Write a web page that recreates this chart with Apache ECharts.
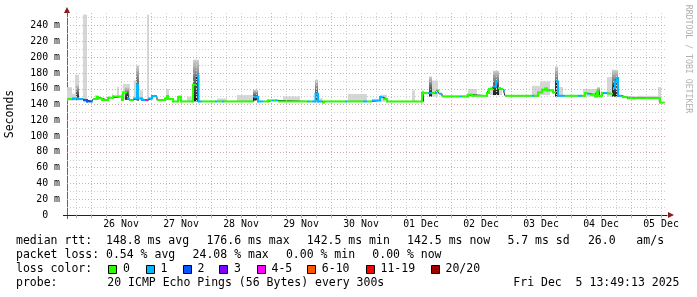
<!DOCTYPE html>
<html><head><meta charset="utf-8">
<script src="https://cdn.jsdelivr.net/npm/echarts@6/dist/echarts.min.js"></script>
<style>html,body{margin:0;padding:0;background:#fff}#c{width:697px;height:297px}</style>
</head><body><div id="c"></div><script>
// ---- data (time in hours since 26 Nov 00:00, values in ms) ----
const dayLabels = ['26 Nov','27 Nov','28 Nov','29 Nov','30 Nov','01 Dec','02 Dec','03 Dec','04 Dec','05 Dec'];
const yTicks = [0,20,40,60,80,100,120,140,160,180,200,220,240];
const tStart = -9.6, tEnd = 230.4, tLast = 229.4;

// median rtt steps
const medT = [-9.6,-7.6,-5.2,-3.2,-1.6,0.4,0.8,2.4,2.8,4.4,6.8,8.8,12.4,12.8,14.4,15.2,16.8,18.4,18.8,20.4,21.6,22.8,24.4,26.4,29.6,30.4,30.8,32.8,34.8,36.0,40.8,42.2,43.0,44.4,
  49.6,50.4,52.4,53.2,65.0,66.8,68.8,70.8,72.4,73.0,73.6,74.8,86.4,87.6,88.4,89.8,90.8,92.4,93.2,101.6,102.4,108.8,110.4,
  112.4,115.6,116.8,118.4,132.4,134.8,136.4,137.6,138.4,139.2,140.4,147.6,148.4,150.8,152.4,158.4,159.2,160.8,162.0,162.8,163.6,164.8,165.6,
  176.4,177.2,178.8,180.4,181.6,182.4,184.8,186.0,186.8,189.6,194.8,196.4,197.6,198.4,199.6,201.6,202.4,202.8,204.4,204.8,206.4,208.8,209.6,210.4,210.8,212.4,214.4,214.8,227.6];
const medV = [146.9,147.7,146.9,145.6,143.9,143.9,146.9,149.5,147.7,145.6,148.6,150.2,145.6,155.3,147.7,145.6,147.7,165.1,147.7,145.6,145.6,147.7,150.7,145.6,147.7,150.7,146.9,143.9,149.5,143.9,165.1,176.6,143.9,143.9,
  143.9,143.9,143.9,143.9,149.4,143.9,143.9,145.2,145.2,145.2,145.2,143.9,143.9,143.9,143.9,153.7,143.9,142.5,143.9,143.9,143.9,143.9,143.9,
  145.2,149.4,146.9,143.9,154.5,154.5,154.5,154.5,157.9,153.7,150.3,150.3,150.3,152.4,151.1,154.5,159.6,163.0,169.3,160.8,159.6,157.9,151.1,
  151.1,151.1,155.3,158.7,160.4,157.9,155.3,169.3,151.1,151.1,151.1,151.1,154.5,153.7,152.4,150.3,156.6,151.1,154.5,154.5,153.7,160.8,169.3,173.5,151.1,149.4,148.1,148.1,142.5];
// lost pings (of 20) per step
const medL = [0,1,1,2,2,1,0,0,0,0,0,0,0,0,1,0,1,1,1,1,4,1,1,0,0,0,0,0,0,0,0,1,1,0,
  1,0,1,0,1,1,0,0,1,0,1,0,1,0,1,1,1,0,0,1,0,1,0,
  1,1,0,0,0,1,0,1,0,1,0,1,0,0,0,0,0,1,1,0,0,1,0,
  1,0,0,0,0,0,0,1,1,0,1,0,0,1,0,0,0,0,0,1,0,1,1,1,1,0,1,0,0];

// smoke: spread of the individual pings (light part)
const smokeT0 = [-9.6,-7.6,-6.4,-3.2,1.6,8.4,10.4,12.8,17.2,19.6,22.4,30.0,34.8,38.4,40.8,50.4,58.4,76.8,90.8,102.8,115.6,128.4,136.4,150.8,159.6,163.2,176.4,179.6,186.8,196.8,206.4,218.4,226.8];
const smokeT1 = [-7.6,-6.4,-4.8,-1.6,2.8,8.8,11.2,15.6,19.2,20.8,23.2,31.2,36.4,40.4,42.8,54.4,64.8,83.6,92.8,110.4,118.4,129.6,138.8,154.4,161.6,164.4,179.6,183.6,188.8,202.8,208.4,226.8,228.0];
const smokeLo = [145,145,145,143,146,148,148,146,146,145,144,146,144,144,144,143.5,143.5,143.5,143.5,143.5,143.5,143.5,150,150,152,152,150,152,150,150,150,147,143];
const smokeHi = [162,153.7,177.8,254,152,154,162.5,166,170.5,158,254,159.6,152,150,185,147.7,152,150.3,148,153.3,152.4,158,170.5,159.6,163,161,163.8,169.3,162.2,159.6,174.8,151.1,162.2];
// smoke: dense part
const denseT0 = [-6.0,13.6,18.0,40.8,64.8,89.6,132.4,135.2,160.8,185.6,202.4,208.4];
const denseT1 = [-4.8,15.2,19.2,43.2,66.8,90.8,133.2,136.4,163.2,186.8,203.6,210.8];
const denseLo = [146,146,145,144,145,144,144,150,152,150,150,150];
const denseHi = [165,162,189.6,196.8,158.7,171.4,157.9,175.6,182.9,188.3,162,184.1];

const lossBuckets = [0,1,2,3,5,10,19,20];
const lossNames = ['0','1','2','3','4-5','6-10','11-19','20/20'];
const lossCols = ['#26ff00','#00b8ff','#0059ff','#7e00ff','#ff00ff','#ff5500','#ff0000','#a10000'];

// ---- rendering ----
const MONO = '"DejaVu Sans Mono", monospace';
function lossIdx(l){ for (let i=0;i<lossBuckets.length;i++) if (l<=lossBuckets[i]) return i; return lossBuckets.length-1; }

const labelHours = dayLabels.map((d,i)=>i*24+12);
const tickHours = []; for (let h=-6; h<=tEnd; h+=6) tickHours.push(h);

const gridLines = [];
const MAJ = '#dcaaaa', MIN = '#cfcfcf';
tickHours.forEach(h=>gridLines.push({xAxis:h, lineStyle:{color: h%24===0?MAJ:MIN, type:[1,2], width:1}}));
for (let v=10; v<=250; v+=10) gridLines.push({yAxis:v, lineStyle:{color: v%20===0?MAJ:MIN, type:[1,2], width:1}});

const n = medT.length;
const medPts = medT.map((t,i)=>[t, medV[i]]).concat([[tLast, medV[n-1]]]);
const segData = medT.map((t,i)=>[t, i+1<n?medT[i+1]:tLast, medV[i], medL[i],
  (i>0 && lossIdx(medL[i-1])===lossIdx(medL[i])) ? medV[i-1] : -1]);

function rectItem(api, t0, t1, lo, hi, fill){
  const a = api.coord([t0, hi]), b = api.coord([t1, lo]);
  return {type:'rect', shape:{x:a[0], y:a[1], width:b[0]-a[0], height:b[1]-a[1]}, style:{fill}};
}

const graphic = [];
function txt(x,y,text,extra){ graphic.push(Object.assign({type:'text', x, y, silent:true,
  style:{text, font:'11.5px '+MONO, fill:'#000', verticalAlign:'middle'}}, extra||{})); }
txt(16,241,'median rtt:  148.8 ms avg'); txt(206.5,241,'176.6 ms max'); txt(306.8,241,'142.5 ms min');
txt(407.1,241,'142.5 ms now'); txt(507.4,241,'5.7 ms sd'); txt(587.9,241,'26.0   am/s');
txt(16,255,'packet loss: 0.54 % avg'); txt(192.6,255,'24.08 % max'); txt(285.9,255,'0.00 % min'); txt(372.3,255,'0.00 % now');
txt(16,269,'loss color:');
const boxX = [108.3,145.7,182.7,219.3,256.7,307,365.7,430.7];
lossNames.forEach((nm,i)=>{
  graphic.push({type:'rect', silent:true, shape:{x:Math.round(boxX[i])+0.5, y:265.5, width:8, height:8}, style:{fill:lossCols[i], stroke:'#000', lineWidth:1}});
  txt(boxX[i]+14.8,269,nm);
});
txt(16,283,'probe:'); txt(107.3,283,'20 ICMP Echo Pings (56 Bytes) every 300s'); txt(513.3,283,'Fri Dec  5 13:49:13 2025');
graphic.push({type:'text', x:10, y:114, rotation:Math.PI/2, silent:true,
  style:{text:'Seconds', font:'11.5px '+MONO, fill:'#000', align:'center', verticalAlign:'middle'}});
graphic.push({type:'text', x:688, y:59, rotation:-Math.PI/2, silent:true,
  style:{text:'RRDTOOL / TOBI OETIKER', font:'8.2px '+MONO, fill:'#b0b0b0', align:'center', verticalAlign:'middle'}});
graphic.push({type:'polygon', silent:true, shape:{points:[[64,13],[70,13],[67,7]]}, style:{fill:'#8b1a1a'}});
graphic.push({type:'polygon', silent:true, shape:{points:[[668,212],[668,218],[674,215]]}, style:{fill:'#8b1a1a'}});
graphic.push({type:'line', silent:true, shape:{x1:63, y1:215.5, x2:67, y2:215.5}, style:{stroke:'#222', lineWidth:1}});
graphic.push({type:'line', silent:true, shape:{x1:67.5, y1:215, x2:67.5, y2:219}, style:{stroke:'#666', lineWidth:1}});

const option = {
  animation:false, backgroundColor:'#fff',
  grid:{left:67, right:30, top:13, bottom:82},
  xAxis:{type:'value', min:tStart, max:tEnd, splitLine:{show:false},
    axisLine:{show:true, onZero:false, lineStyle:{color:'#222', width:1}},
    axisTick:{show:true, customValues:tickHours, length:3, lineStyle:{color:'#c8a0a0'}},
    axisLabel:{customValues:labelHours, formatter:v=>dayLabels[Math.round((v-12)/24)], fontFamily:MONO, fontSize:9.9, color:'#000', margin:4}},
  yAxis:{type:'value', min:0, max:256, interval:20, splitLine:{show:false},
    axisLine:{show:true, onZero:false, lineStyle:{color:'#666', width:1}}, axisTick:{show:false},
    axisLabel:{showMaxLabel:false, formatter:v=>v===0?'0  ':v+' m', fontFamily:MONO, fontSize:9.9, color:'#000', margin:7}},
  graphic,
  series:[
    {type:'line', z:1, data:[[tStart,0]], symbol:'none', lineStyle:{width:0}, silent:true,
     markLine:{silent:true, symbol:['none','none'], label:{show:false}, animation:false, data:gridLines}},
    {type:'custom', z:2, silent:true, clip:true, encode:{x:[0,1], y:[2,3]},
     data:smokeT0.map((t,i)=>[t, smokeT1[i], smokeLo[i], smokeHi[i]]),
     renderItem:(p,api)=>rectItem(api, api.value(0), api.value(1), api.value(2), api.value(3), '#d6d6d6')},
    {type:'custom', z:3, silent:true, clip:true, encode:{x:[0,1], y:[2,3]},
     data:denseT0.map((t,i)=>[t, denseT1[i], denseLo[i], denseHi[i]]),
     renderItem:(p,api)=>rectItem(api, api.value(0), api.value(1), api.value(2), api.value(3),
       {type:'linear', x:0, y:0, x2:0, y2:1, colorStops:[{offset:0,color:'#d0d0d0'},{offset:0.6,color:'#555'},{offset:1,color:'#1a1a1a'}]})},
    {type:'line', z:4, step:'end', data:medPts, symbol:'none', silent:true, lineStyle:{color:'#202020', width:1}},
    {type:'custom', z:5, silent:true, clip:true, encode:{x:[0,1], y:2}, data:segData,
     renderItem:(p,api)=>{
       const t0=api.value(0), t1=api.value(1), v=api.value(2), col=lossCols[lossIdx(api.value(3))], pv=api.value(4);
       const a=api.coord([t0,v]), b=api.coord([t1,v]);
       const ch=[{type:'rect', shape:{x:a[0], y:a[1]-1, width:b[0]-a[0], height:2}, style:{fill:col}}];
       if (pv>=0){ const q=api.coord([t0,pv]); ch.push({type:'rect', shape:{x:a[0]-1, y:Math.min(q[1],a[1])-1, width:2, height:Math.abs(q[1]-a[1])+2}, style:{fill:col}}); }
       return {type:'group', children:ch};
     }}
  ]
};
echarts.init(document.getElementById('c'), null, {renderer:'canvas'}).setOption(option);
</script></body></html>
